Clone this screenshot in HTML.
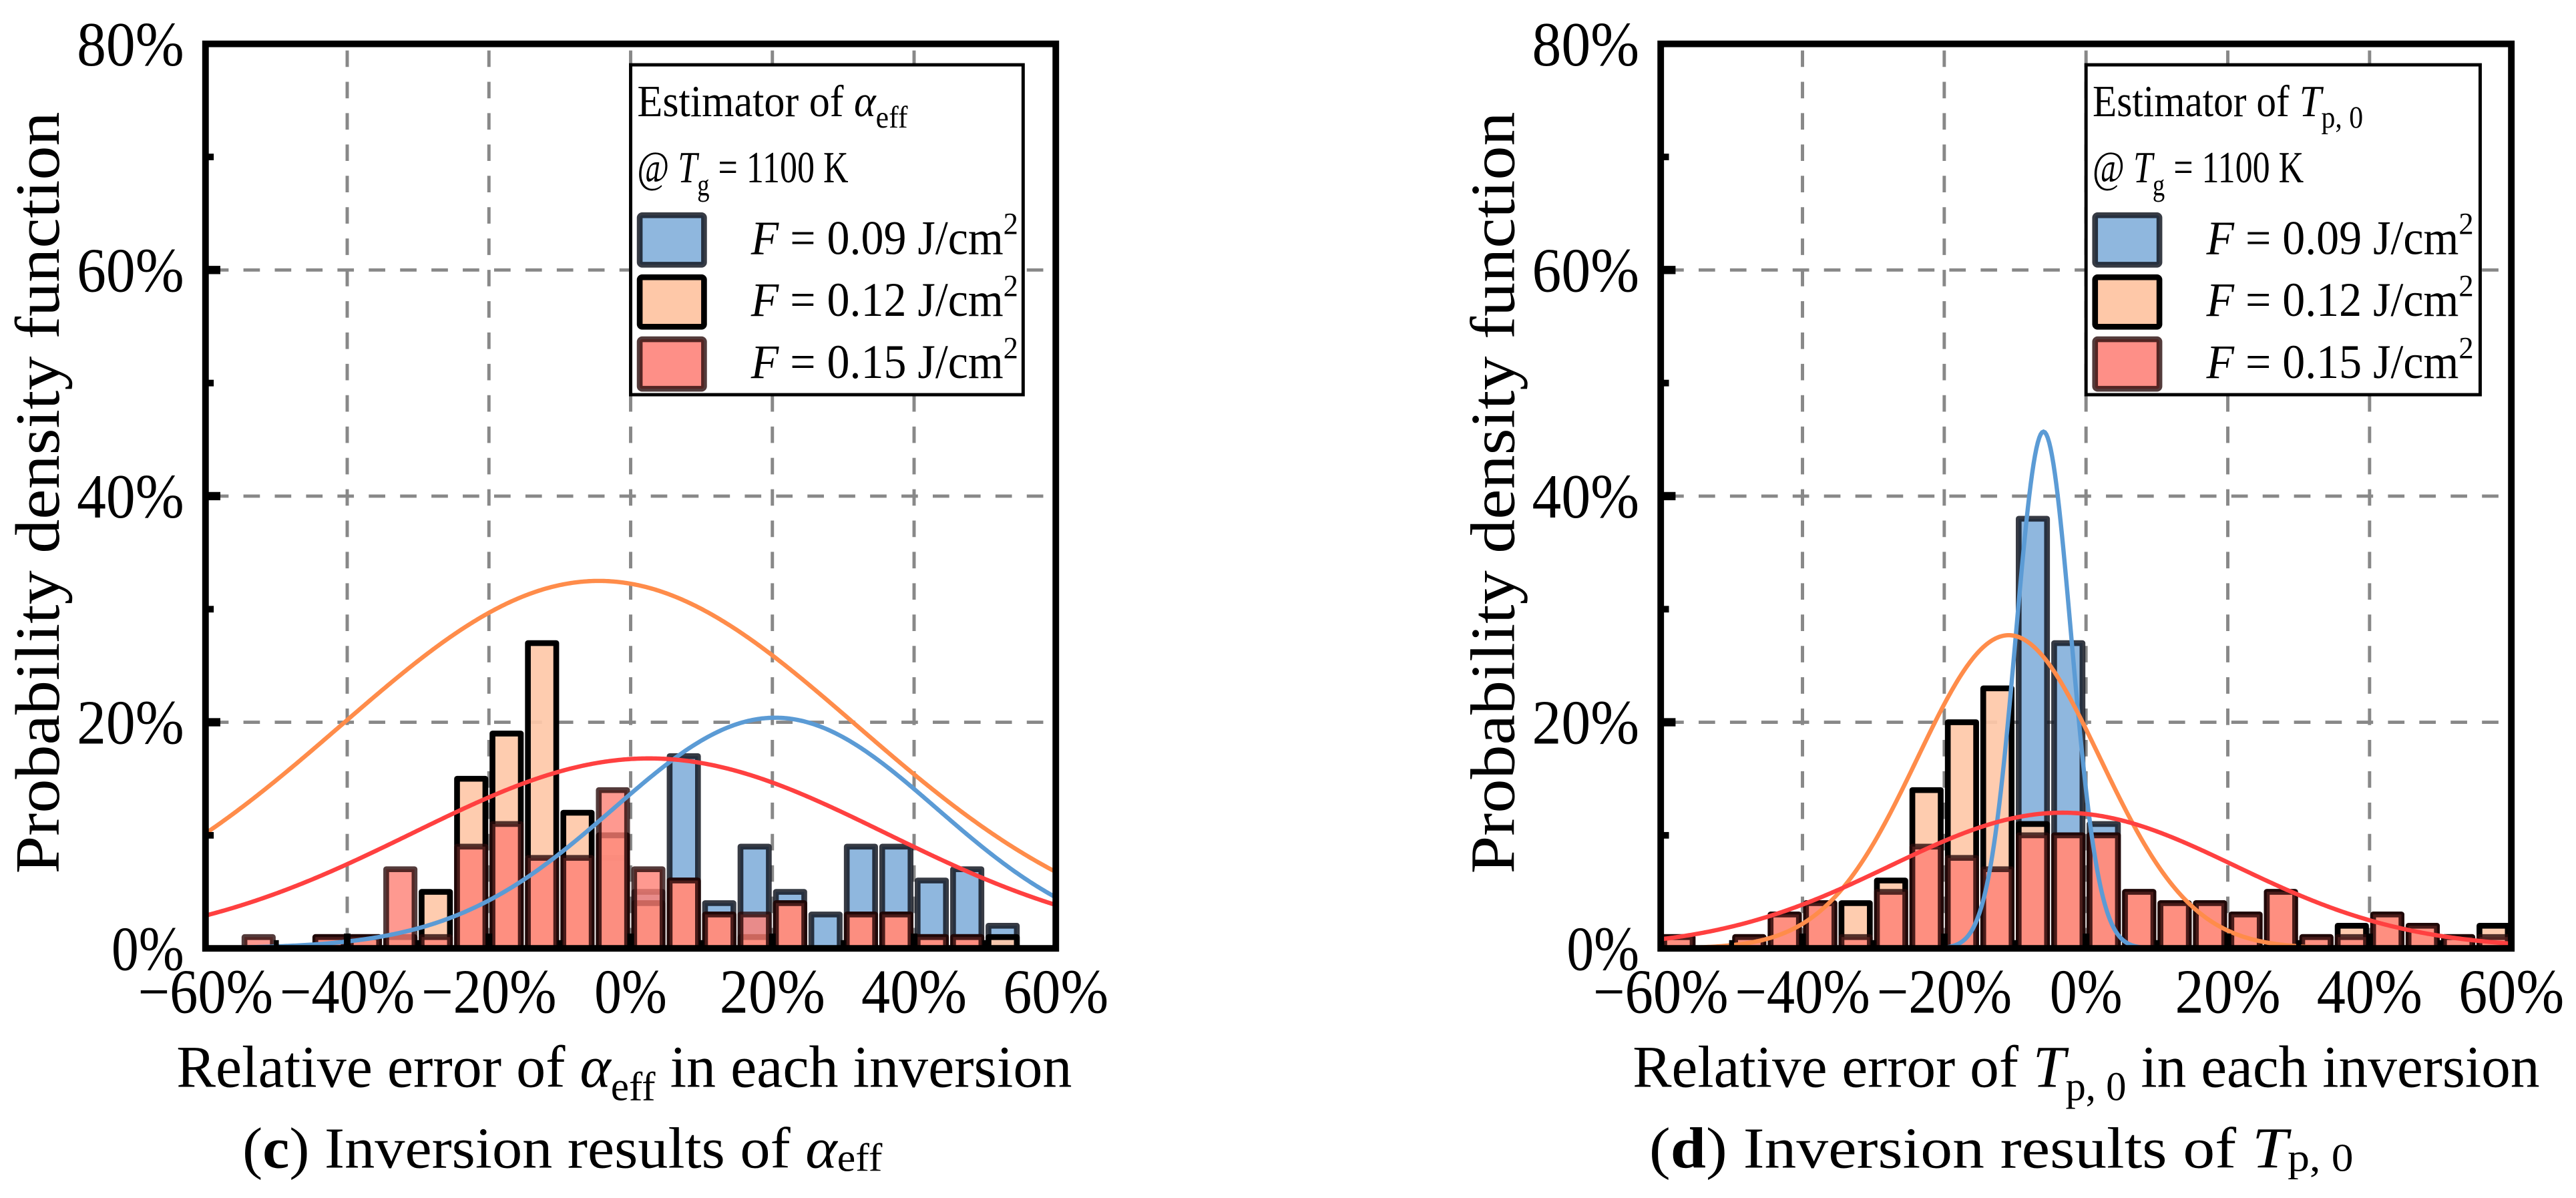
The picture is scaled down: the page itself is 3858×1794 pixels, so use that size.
<!DOCTYPE html>
<html><head><meta charset="utf-8"><style>
html,body{margin:0;padding:0;background:#fff;}
svg{display:block;font-family:"Liberation Serif",serif;}
</style></head><body>
<svg id="fig" width="3858" height="1794" viewBox="0 0 1562 726.35" xmlns="http://www.w3.org/2000/svg"></svg>
<script>
// shared bins (bin centers, %)
const binsC = [-57.5,-52.5,-47.5,-42.5,-37.5,-32.5,-27.5,-22.5,-17.5,-12.5,-7.5,-2.5,2.5,7.5,12.5,17.5,22.5,27.5,32.5,37.5,42.5,47.5,52.5,57.5];
// panel (c) alpha_eff, values in %
const cBlue  = [0,0,0,0,0,0,0,0,0,0,0,8,5,17,4,9,5,3,9,9,6,7,2,0];
const cPeach = [0,0,0,1,1,1,5,15,19,27,12,10,4,6,3,1,4,0,3,3,1,1,1,0];
const cRed   = [0,1,0,1,1,7,1,9,11,8,8,14,7,6,3,3,4,0,3,3,1,1,0,0];
// panel (d) T_p,0, values in %
const dBlue  = [0,0,0,0,0,0,0,0,0,0,38,27,11,0,0,0,0,0,0,0,0,0,0,0];
const dPeach = [1,0,1,3,4,4,6,14,20,23,11,10,10,5,4,4,3,5,1,2,3,2,1,2];
const dRed   = [1,0,1,3,4,1,5,9,8,7,10,10,10,5,4,4,3,5,1,1,3,2,1,1];
// fitted normal curves: [mean %, sigma %, peak %]
const cCurveBlue  = [20.4, 22.8, 20.4];
const cCurvePeach = [-4.5, 36.4, 32.5];
const cCurveRed   = [2.6, 33.4, 16.8];
const dCurveBlue  = [-6.0, 3.9, 45.7];
const dCurvePeach = [-10.9, 12.9, 27.7];
const dCurveRed   = [-3.3, 24.4, 12.0];
const xTicks = [-60,-40,-20,0,20,40,60];
const yTicks = [0,20,40,60,80];

const NS = "http://www.w3.org/2000/svg";
const svg = document.getElementById('fig');
function mk(tag, attrs, parent){const e=document.createElementNS(NS,tag);for(const k in attrs)e.setAttribute(k,attrs[k]);(parent||svg).appendChild(e);return e;}
function fmt(v){return (v<0?'\u2212':'')+Math.abs(v)+'%';}

function panel(o){
  const g = mk('g',{});
  
  
  const L=o.left, R=o.right, T=26.6, B=575;
  const xs = v => L + (v+60)/120*(R-L);
  const ys = v => B - v/80*(B-T);
  const grid = mk('g',{stroke:'#888','stroke-width':2,'stroke-dasharray':'10 9',fill:'none'},g);
  
  
  [-40,-20,0,20,40].forEach(v=>mk('line',{x1:xs(v),x2:xs(v),y1:T+4,y2:B-2},grid));
  [20,40,60].forEach(v=>mk('line',{x1:L+4,x2:R-2,y1:ys(v),y2:ys(v)},grid));
  const series=[[o.blue,'#8fb7de','rgba(20,25,35,0.85)',1,'bars-f009'],[o.peach,'#fec8a8','#000',0.92,'bars-f012'],[o.red,'#fe7f74','rgba(40,10,10,0.8)',0.8,'bars-f015']];
  series.forEach(s=>{
    const bg=mk('g',{},g);
    
    
    binsC.forEach((c,i)=>{
      const v=s[0][i]; if(!v) return;
      let x0=xs(c-2), x1=xs(c+2);
      x0=Math.max(x0,L+2);
      const r=mk('rect',{x:x0,y:ys(v),width:x1-x0,height:ys(0)-ys(v),fill:s[1],'fill-opacity':s[3],stroke:s[2],'stroke-width':3.5,'stroke-linejoin':'round'},bg);
      
      
    });
  });
  [[o.cb,'#5b9bd5','fit-curve-f009'],[o.cp,'#ff8c4a','fit-curve-f012'],[o.cr,'#ff4040','fit-curve-f015']].forEach(cv=>{
    let d='';
    for(let k=0;k<=600;k++){const x=-60+120*k/600;const y=cv[0][2]*Math.exp(-Math.pow(x-cv[0][0],2)/(2*cv[0][1]*cv[0][1]));d+=(k?'L':'M')+xs(x).toFixed(2)+' '+ys(y).toFixed(2);}
    const p=mk('path',{d:d,fill:'none',stroke:cv[1],'stroke-width':2.6},g);
    
    
  });
  const f=mk('rect',{x:L,y:T,width:R-L,height:B-T,fill:'none',stroke:'#000','stroke-width':4},g);
  
  
  for(let v=10;v<80;v+=10){const major=v%20===0;mk('line',{x1:L,x2:L+(major?9:5),y1:ys(v),y2:ys(v),stroke:'#000','stroke-width':major?5:4},g);}
  [-50,-40,-30,-20,-10,0,10,20,30,40,50].forEach(v=>{const major=v%20===0;mk('line',{x1:xs(v),x2:xs(v),y1:B,y2:B-(major?9:5),stroke:'#000','stroke-width':major?4:3},g);});
  yTicks.forEach(v=>{const t=mk('text',{x:L-13,y:ys(v)+13,'text-anchor':'end','font-size':38,textLength:v===0?44:65,lengthAdjust:'spacingAndGlyphs'},g);t.textContent=v+'%';
    
    });
  xTicks.forEach(v=>{const t=mk('text',{x:xs(v),y:614,'text-anchor':'middle','font-size':38,textLength:v<0?82:(v===0?44:64),lengthAdjust:'spacingAndGlyphs'},g);t.textContent=fmt(v);
    
    });
  const yt=mk('text',{x:0,y:0,'text-anchor':'middle','font-size':38,textLength:462,lengthAdjust:'spacingAndGlyphs',transform:`translate(${L-89},${(T+B)/2-2}) rotate(-90)`},g);
  yt.textContent='Probability density function';
  
  
  const xt=mk('text',{x:o.xtX,y:659,'font-size':36,textLength:o.xtW,lengthAdjust:'spacingAndGlyphs'},g);
  xt.innerHTML=o.xtitle;
  
  
  const cap=mk('text',{x:o.capX,y:708,'font-size':35,textLength:o.capW,lengthAdjust:'spacingAndGlyphs'},g);
  cap.innerHTML=o.caption;
  
  
  const lg=mk('g',{},g);
  
  
  const lx=xs(0), lw=o.legendW;
  mk('rect',{x:lx,y:39.3,width:lw,height:200,fill:'#fff',stroke:'#000','stroke-width':2},lg);
  const t1=mk('text',{x:lx+4,y:70.4,'font-size':27,textLength:o.ltW,lengthAdjust:'spacingAndGlyphs'},lg);t1.innerHTML=o.legendTitle;
  const t2=mk('text',{x:lx+4,y:110.5,'font-size':27,textLength:128,lengthAdjust:'spacingAndGlyphs'},lg);t2.innerHTML='@ <tspan font-style="italic">T</tspan><tspan font-size="19" dy="8">g</tspan><tspan dy="-8"> = 1100 K</tspan>';
  const rows=[['#8fb7de','rgba(20,25,35,0.85)','0.09'],['#fec8a8','#000','0.12'],['#fe8f87','rgba(40,10,10,0.8)','0.15']];
  rows.forEach((r,i)=>{
    const y0=129+i*37.6;
    const p=mk('rect',{x:lx+5.5,y:y0+1.5,width:39,height:30,fill:r[0],stroke:r[1],'stroke-width':3.5,rx:1.5},lg);
    
    
    const t=mk('text',{x:lx+73,y:y0+25,'font-size':29,textLength:162,lengthAdjust:'spacingAndGlyphs'},lg);
    t.innerHTML='<tspan font-style="italic">F</tspan> = '+r[2]+' J/cm<tspan font-size="19" dy="-12">2</tspan>';
    
    
  });
}

panel({name:'panel-c-alpha-eff',left:124.6,right:640.2,blue:cBlue,peach:cPeach,red:cRed,cb:cCurveBlue,cp:cCurvePeach,cr:cCurveRed,legendW:238,ltW:164,
  xtX:107,xtW:543,capX:147,capW:388,
  legendTitle:'Estimator of <tspan font-style="italic">α</tspan><tspan font-size="19" dy="7">eff</tspan>',
  xtitle:'Relative error of <tspan font-style="italic">α</tspan><tspan font-size="25" dy="8">eff</tspan><tspan dy="-8"> in each inversion</tspan>',
  caption:'(<tspan font-weight="bold">c</tspan>) Inversion results of <tspan font-style="italic">α</tspan><tspan font-size="24" dy="2">eff</tspan>'});
panel({name:'panel-d-tp0',left:1007,right:1522.8,blue:dBlue,peach:dPeach,red:dRed,cb:dCurveBlue,cp:dCurvePeach,cr:dCurveRed,legendW:239,ltW:164,
  xtX:990,xtW:550,capX:1000,capW:427,
  legendTitle:'Estimator of <tspan font-style="italic">T</tspan><tspan font-size="19" dy="7">p, 0</tspan>',
  xtitle:'Relative error of <tspan font-style="italic">T</tspan><tspan font-size="25" dy="8">p, 0</tspan><tspan dy="-8"> in each inversion</tspan>',
  caption:'(<tspan font-weight="bold">d</tspan>) Inversion results of <tspan font-style="italic">T</tspan><tspan font-size="24" dy="2">p, 0</tspan>'});
</script>
</body></html>
